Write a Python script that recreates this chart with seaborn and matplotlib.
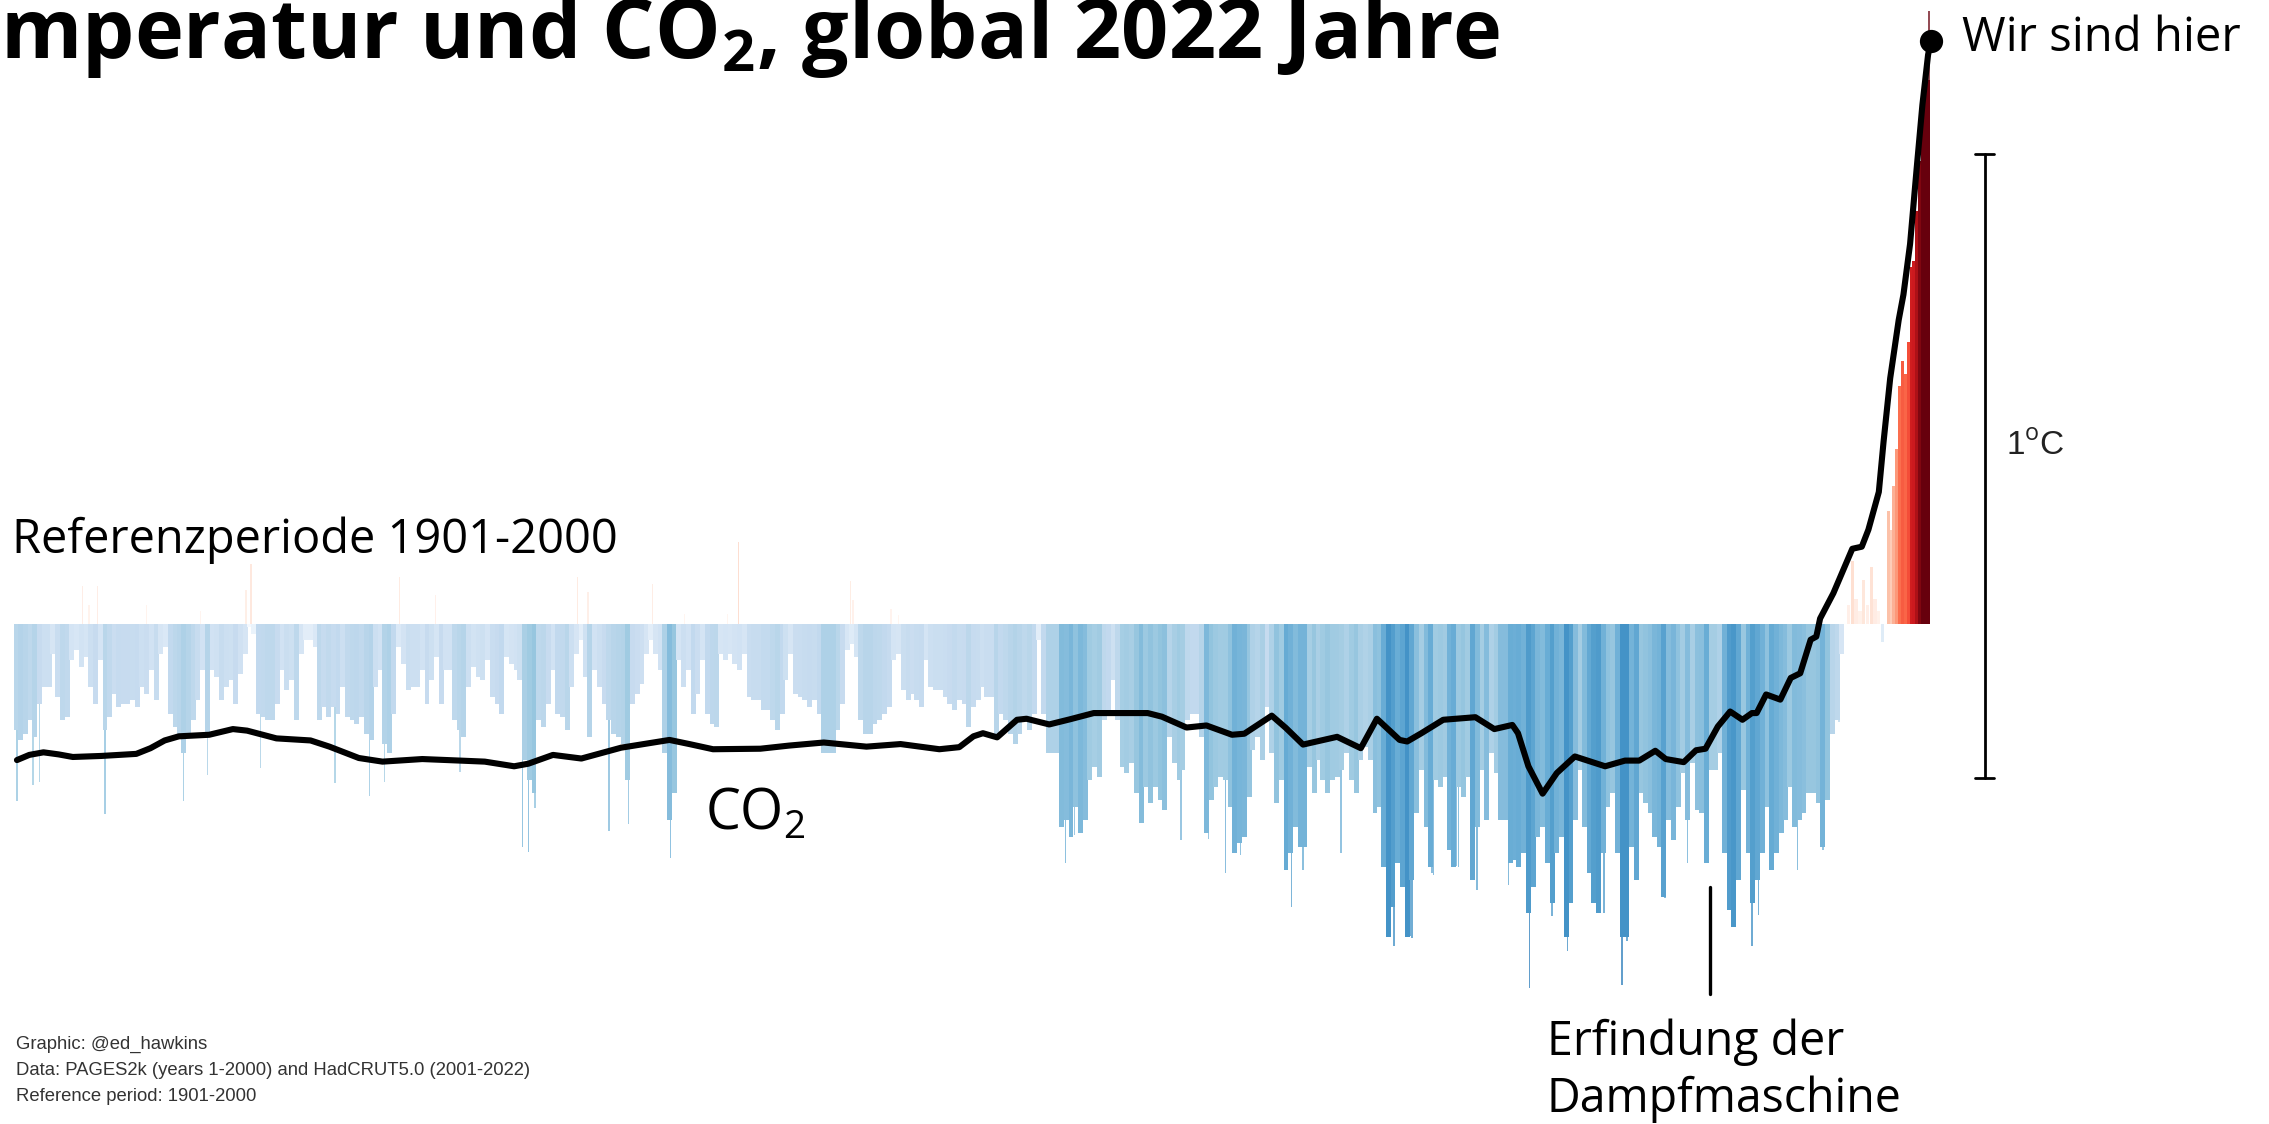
import matplotlib
matplotlib.use("Agg")
import matplotlib.pyplot as plt
import numpy as np
import seaborn as sns

# cold side of the chart, depth of each roughly five year stripe in deg C
depth_a = [.171,.187,.176,.155,.181,.128,.101,.101,.048,.117,.155,.149,.059,.043,.069,.053,.101,.128,.059,.171,.149,.112,.133,.128,.128,.123,.133,.101,.112,.075,
           .123,.048,.037,.144,.165,.176,.208,.181,.155,.123,.075,.181,.075,.085,.123,.101,.091,.128,.08,.048,.005,.016,.144,.149,.155,.155,.128,.075,.107,.091,
           .155,.048,.027,.027,.037,.155,.133,.149,.133,.144,.101,.149,.155,.16,.149,.176,.187,.101,.075,.192,.208,.144,.037,.064,.107,.101,.101,.075,.128,.091,
           .053,.128,.075,.075,.155,.171,.181,.101,.069,.085,.091,.059,.117,.128,.144,.053,.064,.075,.091,.219]
depth_b = [.251,.272,.155,.165,.128,.075,.144,.149,.171,.101,.048,.027,.085,.181,.075,.101,.128,.155,.176,.181,.192,.251,.128,.112,.096,.048,.027,.048,.075,.208,
           .315,.272,.059,.101,.075,.144,.112,.059,.144,.16,.165,.048,.059,.048,.064,.075,.048,.117,.123,.123,.139,.139,.155,.171,.144,.091,.048,.112,.117,.123,
           .133,.123,.144,.208,.208,.208,.171,.128,.043,.032,.053,.155,.176,.176,.16,.155,.144,.133,.059,.048,.107,.123,.112,.123,.133,.059,.101,.107,.107,.117,
           .128,.139,.123,.128,.165,.133,.123,.101,.117,.117,.176,.144,.155,.176,.192,.176,.155,.171,.144,.027,.144,.208]
depth_c = [.208,.208,.325,.315,.341,.293,.336,.315,.251,.229,.245,.155,.144,.091,.155,.229,.24,.224,.272,.32,.261,.288,.261,.283,.299,.181,.224,.251,.235,.155,
           .144,.144,.181,.336,.283,.261,.245,.251,.293,.368,.352,.341,.277,.203,.181,.219,.133,.208,.288,.251,.395,.368,.325,.357,.357,.229,.272,.219,.251,.272,
           .251,.245,.235,.208,.251,.272,.219,.197,.219,.304,.293,.389,.501,.453]
depth_d = [.384,.421,.501,.411,.304,.235,.325,.389,.251,.261,.245,.363,.389,.261,.277,.245,.411,.325,.235,.315,.208,.24,.315,.315,.384,.379,.389,.368,.464,.421,
           .341,.325,.384,.448,.368,.341,.501,.448,.315,.235,.325,.4,.448,.464,.368,.293,.272,.368,.501,.501,.357,.411,.272,.288,.304,.341,.357,.437,.315,.347,
           .293,.24,.315,.224,.299,.304,.384,.235,.235,.208,.368,.459,.485,.411,.267,.368,.448,.411,.368,.293,.395,.368,.336,.315,.261,.325,.315,.304,.272,.272,
           .288,.357,.283,.176,.155,.048]

# single cold or warm years that stick out of the stripes
spike_years = [2,19,26,95,178,203,259,338,374,390,470,536,542,549,627,648,692,
               1109,1119,1191,1231,1260,1278,1294,1348,1360,1400,1456,1475,1498,1524,1544,
               1473,1496,1522,1543,1577,1599,1623,1639,1678,1697,1702,1742,1766,1788,1808,1815,1834,1841,1857,1882,1909,1926,
               71,78,87,139,196,244,249,406,444,594,605,673,707,764,752,882,885,925,933]
spike_values = [-.284,-.258,-.253,-.305,-.284,-.242,-.232,-.255,-.276,-.253,-.237,-.358,-.366,-.295,-.332,-.321,-.376,
                -.384,-.339,-.318,-.347,-.345,-.4,-.371,-.453,-.395,-.368,-.516,-.503,-.403,-.39,-.426,
                -.5,-.4,-.388,-.426,-.418,-.583,-.468,-.524,-.463,-.579,-.508,-.439,-.384,-.382,-.458,-.482,-.516,-.466,-.395,-.395,-.363,-.158,
                .06,.03,.06,.03,.02,.053,.095,.074,.045,.074,.05,.063,.016,.13,.016,.068,.037,.024,.013]

mid_years = [1936,1940,1944,1948,1952,1956,1960,1964,1968,1972]
mid_values = [.03,.1,.04,.02,.07,.03,.09,.04,.02,-.03]

late_years = [1978,1981,1984,1987,1990,1993,1996,1999,2002,2005,2008,2011,2014,2017,2020]
late_values = [.18,.15,.22,.28,.38,.42,.40,.45,.57,.58,.66,.74,.84,.86,.87]

peak_years = [2021]
peak_values = [.98]

co2_years = [2,15,30,46,61,91,128,143,158,173,205,230,245,276,312,332,363,388,430,470,496,527,542,568,598,640,691,712,737,
             787,817,854,899,935,976,997,1012,1022,1037,1058,1068,1092,1114,1139,1196,1211,1237,1258,1285,1298,1327,1342,1360,1396,1421,1438,
             1462,1470,1485,1508,1542,1562,1581,1587,1598,1613,1628,1647,1679,1700,1715,1732,1743,1762,1775,1785,1798,1811,1824,1834,1839,1849,1864,1875,1885,1896,1902,
             1906,1920,1940,1950,1957,1968,1973,1980,1989,1994,2001,2008,2014,2020,2023]
co2_ppm = [277.6,278.6,279.1,278.7,278.2,278.4,278.8,279.9,281.4,282.2,282.5,283.6,283.3,281.8,281.4,280.2,278,277.3,277.8,277.5,277.3,276.4,276.9,278.6,277.9,280,281.5,280.7,279.7,
           279.8,280.4,281,280.2,280.7,279.7,280.1,282.2,282.8,282,285.4,285.6,284.5,285.5,286.7,286.7,286,283.9,284.3,282.5,282.7,286.2,283.8,280.6,282.1,279.9,285.6,
           281.5,281.2,282.8,285.4,285.9,283.6,284.4,282.8,276.4,271.1,275.1,278.3,276.4,277.5,277.5,279.4,277.8,277.2,279.5,279.8,284.1,287,285.4,286.7,286.7,290.3,289.3,293.5,294.4,300.9,301.5,
           305,309.9,318.5,318.9,322.2,329.5,339.2,351.5,362.8,367.7,377.5,392.2,404.4,414.1,416.8]

sns.set_theme(style="white")
plt.rcParams['font.family'] = ['Open Sans', 'DejaVu Sans']
plt.rcParams['mathtext.fontset'] = 'custom'
plt.rcParams['mathtext.rm'] = 'Open Sans'
plt.rcParams['mathtext.bf'] = 'Open Sans:bold'

blues = sns.color_palette("Blues", as_cmap=True)
reds = sns.color_palette("Reds", as_cmap=True)


def stripe_colour(v):
    # floats only, an int would be taken as a colormap index
    if v < 0:
        return blues(float(min(.12 - v, -4 * v)))
    return reds(float(min(1.0, v / 0.78)))


def draw_bars(ax, years, values, span, alpha=1):
    years = np.asarray(years)
    gap = np.diff(np.unique(years)).min() if len(years) > 1 else 1
    pal = {y: stripe_colour(v) for y, v in zip(years, values)}
    sns.barplot(x=years, y=values, hue=years, palette=pal, native_scale=True, orient="x",
                width=span / gap, saturation=1, alpha=alpha, legend=False, linewidth=0,
                errorbar=None, ax=ax)


fig = plt.figure(figsize=(22.69, 11.24), dpi=100)
ax = fig.add_axes([0, 0, 1, 1])

stripes = [-d for d in depth_a + depth_b + depth_c + depth_d]
stripe_years = np.round(np.arange(len(stripes)) * 4.93).astype(int) + 1
draw_bars(ax, spike_years, spike_values, 1.5, alpha=0.75)
draw_bars(ax, stripe_years, stripes, 5.2)
draw_bars(ax, mid_years, mid_values, 3.5)
draw_bars(ax, peak_years, peak_values, 2, alpha=0.7)
draw_bars(ax, late_years, late_values, 3.2)

# scale bar and steam engine marker
ax.plot([2080, 2080], [.752, -.248], color="black", lw=2)
ax.plot([2070, 2090], [.752, .752], color="black", lw=2)
ax.plot([2070, 2090], [-.248, -.248], color="black", lw=2)
ax.plot([1790, 1790], [-.421, -.593], color="black", lw=2.4)

ax.set_xlim(-15.9, 2380)
ax.set_ylim(-.801, .998)
ax.axis("off")

# CO2 on its own axis
ax2 = ax.twinx()
sns.lineplot(x=co2_years, y=co2_ppm, color="black", lw=4.4, sort=False, ax=ax2)
sns.scatterplot(x=[co2_years[-1]], y=[co2_ppm[-1]], color="black", s=280, linewidth=0, ax=ax2)
ax2.set_xlim(-15.9, 2380)
ax2.set_ylim(207.16, 424.72)
ax2.axis("off")


def label(x, y, s, **kw):
    # x, y are positions on a 1568 x 777 view of the figure
    fig.text(x / 1568, 1 - y / 777, s, **kw)


label(1037, 40, r"Temperatur und CO$_{\mathbf{2}}$, global 2022 Jahre", ha="right", va="baseline",
      fontsize=59.5, fontweight="bold", color="black")
label(8, 382, "Referenzperiode 1901-2000", va="baseline", fontsize=33.8, color="black")
label(487, 573, r"CO$_{\mathrm{2}}$", va="baseline", fontsize=40, color="black")
label(1356, 35, "Wir sind hier", va="baseline", fontsize=34, color="black")
label(1069, 729, "Erfindung der", va="baseline", fontsize=33.5, color="black")
label(1069, 769, "Dampfmaschine", va="baseline", fontsize=33.5, color="black")
label(1386, 314, r"1$^{\mathrm{o}}$C", va="baseline", fontsize=24, color="#222222", family="Liberation Sans")

footer = ["Graphic: @ed_hawkins",
          "Data: PAGES2k (years 1-2000) and HadCRUT5.0 (2001-2022)",
          "Reference period: 1901-2000"]
for i, line in enumerate(footer):
    label(11, 725 + i * 18, line, va="baseline", fontsize=13.3, color="#333333", family="Liberation Sans")

fig.savefig("out.png", dpi=100)
